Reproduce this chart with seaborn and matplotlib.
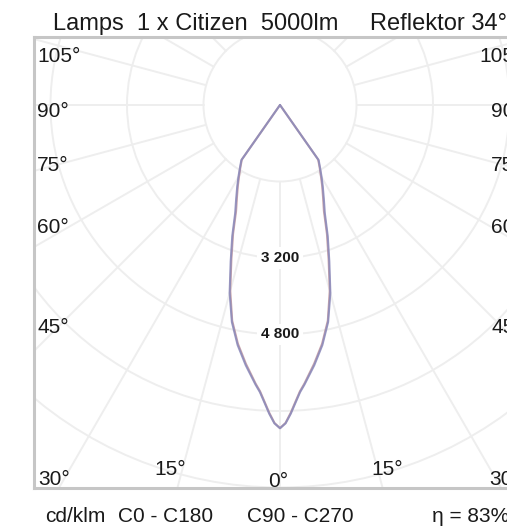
import numpy as np
import pandas as pd
import seaborn as sns
import matplotlib.pyplot as plt
from matplotlib.patches import Circle

# luminous intensity (cd/klm) against angle from the downward axis
angles = [0, 1, 2, 3, 4, 5, 7.5, 10, 12.5, 15, 17.5, 20, 22.5, 25, 27.5, 30, 32.5, 35, 40]
c0_c180 = [6760, 6650, 6440, 6210, 6000, 5850, 5460, 5070, 4620, 4020, 3380, 2870, 2400,
           2130, 1910, 1710, 1540, 1390, 0]
c90_c270 = [6760, 6660, 6460, 6230, 6020, 5870, 5490, 5100, 4650, 4070, 3430, 2920, 2450,
            2170, 1940, 1740, 1560, 1410, 0]

rings = [1600, 3200, 4800, 6400, 8000, 9600]
ring_labels = {3200: "3 200", 4800: "4 800"}

title_left = "Lamps  1 x Citizen  5000lm"
title_right = "Reflektor 34°"
footer = ["cd/klm", "C0 - C180", "C90 - C270", "η = 83%"]

# angle labels along the frame: (text, x px, baseline px, ha)
edge_labels = [
    ("105°", 37, 62, "left"), ("90°", 37, 117, "left"), ("75°", 37, 171, "left"),
    ("60°", 37, 233, "left"), ("45°", 37, 333, "left"),
    ("105°", 523, 62, "right"), ("90°", 523, 117, "right"), ("75°", 523, 171, "right"),
    ("60°", 523, 233, "right"), ("45°", 523, 333, "right"),
    ("30°", 38, 485, "left"), ("15°", 170, 475, "center"), ("0°", 278, 487, "center"),
    ("15°", 387, 475, "center"), ("30°", 521, 485, "right"),
]


def to_frame(name, vals):
    a = np.array(angles)
    v = np.array(vals)
    # left half (C180 / C270) then right half (C0 / C90)
    th = np.concatenate([-a[::-1], a[1:]])
    r = np.concatenate([v[::-1], v[1:]])
    rad = np.deg2rad(th)
    return pd.DataFrame({"x": r * np.sin(rad), "y": -r * np.cos(rad), "plane": name})


df = pd.concat([to_frame("C0 - C180", c0_c180), to_frame("C90 - C270", c90_c270)],
               ignore_index=True)

sns.set_theme(style="white")
plt.rcParams['font.family'] = ['Liberation Sans', 'DejaVu Sans']

W, H = 507, 532
fig = plt.figure(figsize=(W / 100, H / 100), dpi=100)

# frame in pixels: left 34, right 526 (off the image), top 37, bottom 488; pole at (280, 105)
scale = 1600 / 76.5  # cd per pixel
ax = fig.add_axes([34 / W, 1 - 488 / H, 492 / W, 451 / H])
ax.set_xlim(-246 * scale, 246 * scale)
ax.set_ylim(-383 * scale, 68 * scale)

grid_c = "#eeeeee"
for rr in rings:
    ax.add_patch(Circle((0, 0), rr, fill=False, ec=grid_c, lw=1.4, zorder=1))
for deg in range(0, 360, 15):
    t = np.deg2rad(deg)
    ax.plot([1600 * np.sin(t), 14000 * np.sin(t)], [-1600 * np.cos(t), -14000 * np.cos(t)],
            color=grid_c, lw=1.4, zorder=1)

sns.lineplot(data=df, x="x", y="y", hue="plane", sort=False, estimator=None,
             palette={"C0 - C180": "#c0959d", "C90 - C270": "#8a8abb"},
             linewidth=1.5, alpha=0.85, legend=False, ax=ax, zorder=3)

for rr, txt in ring_labels.items():
    ax.text(0, -rr, txt, ha="center", va="center", fontsize=11, fontweight="bold",
            color="#1a1a1a", zorder=4,
            bbox=dict(boxstyle="square,pad=0.25", fc="white", ec="none"))

ax.set_xticks([])
ax.set_yticks([])
ax.set_xlabel("")
ax.set_ylabel("")
for sp in ax.spines.values():
    sp.set_color("#c6c6c6")
    sp.set_linewidth(2.2)

for txt, px, py, ha in edge_labels:
    fig.text(px / W, 1 - py / H, txt, ha=ha, va="baseline", fontsize=15, color="#1a1a1a")

fig.text(53 / W, 1 - 30 / H, title_left, ha="left", va="baseline", fontsize=17, color="#1a1a1a")
fig.text(370 / W, 1 - 30 / H, title_right, ha="left", va="baseline", fontsize=17, color="#1a1a1a")

for txt, px in zip(footer, [45, 118, 247, 432]):
    fig.text(px / W, 1 - 522 / H, txt, ha="left", va="baseline", fontsize=15, color="#1a1a1a")

fig.savefig("out.png", dpi=100)
